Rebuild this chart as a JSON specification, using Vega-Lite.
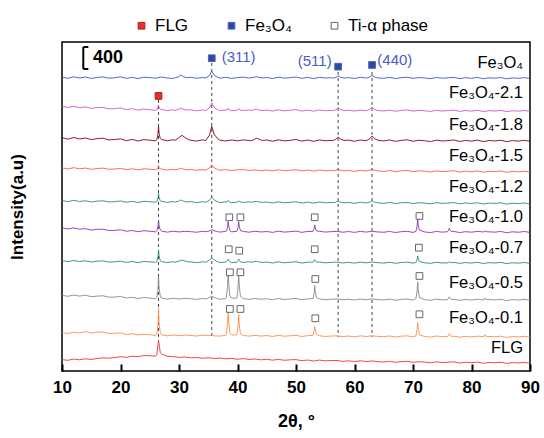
{
"$schema": "https://vega.github.io/schema/vega-lite/v6.json",
"width": 468, "height": 329,
"autosize": "none",
"padding": {"left": 62, "top": 42, "right": 14, "bottom": 67},
"background": "white",
"config": {"view": {"stroke": "#000", "strokeWidth": 1.5}, "font": "Liberation Sans"},
"datasets": {
"L": [
{"s":"a","x":10,"y":5358},{"s":"a","x":11,"y":5338},{"s":"a","x":12,"y":5365},{"s":"a","x":13,"y":5344},{"s":"a","x":14,"y":5361},{"s":"a","x":15,"y":5336},{"s":"a","x":16,"y":5354},{"s":"a","x":17,"y":5363},{"s":"a","x":18,"y":5341},{"s":"a","x":19,"y":5347},{"s":"a","x":20,"y":5364},{"s":"a","x":21,"y":5338},{"s":"a","x":22,"y":5355},{"s":"a","x":23,"y":5334},{"s":"a","x":24,"y":5358},{"s":"a","x":25,"y":5350},{"s":"a","x":26,"y":5340},{"s":"a","x":27,"y":5362},{"s":"a","x":28,"y":5343},{"s":"a","x":29,"y":5336},
{"s":"a","x":29.3,"y":5346},{"s":"a","x":29.9,"y":5365},{"s":"a","x":30.3,"y":5400},{"s":"a","x":30.7,"y":5368},{"s":"a","x":31.3,"y":5350},
{"s":"a","x":32,"y":5356},{"s":"a","x":33,"y":5339},{"s":"a","x":34,"y":5352},
{"s":"a","x":34.6,"y":5345},{"s":"a","x":35.2,"y":5390},{"s":"a","x":35.6,"y":5470},{"s":"a","x":36.0,"y":5395},{"s":"a","x":36.6,"y":5355},
{"s":"a","x":37,"y":5340},{"s":"a","x":38,"y":5357},{"s":"a","x":39,"y":5336},{"s":"a","x":40,"y":5352},{"s":"a","x":41,"y":5359},{"s":"a","x":42,"y":5343},
{"s":"a","x":42.2,"y":5345},{"s":"a","x":42.8,"y":5355},{"s":"a","x":43.2,"y":5370},{"s":"a","x":43.6,"y":5356},{"s":"a","x":44.2,"y":5344},
{"s":"a","x":45,"y":5353},{"s":"a","x":46,"y":5335},{"s":"a","x":47,"y":5359},{"s":"a","x":48,"y":5341},{"s":"a","x":49,"y":5350},{"s":"a","x":50,"y":5362},{"s":"a","x":51,"y":5337},{"s":"a","x":52,"y":5354},{"s":"a","x":53,"y":5333},{"s":"a","x":54,"y":5356},{"s":"a","x":55,"y":5344},{"s":"a","x":56,"y":5349},
{"s":"a","x":56.2,"y":5340},{"s":"a","x":56.8,"y":5354},{"s":"a","x":57.2,"y":5380},{"s":"a","x":57.6,"y":5357},{"s":"a","x":58.2,"y":5342},
{"s":"a","x":59,"y":5351},{"s":"a","x":60,"y":5336},{"s":"a","x":61,"y":5355},
{"s":"a","x":62,"y":5343},{"s":"a","x":62.6,"y":5360},{"s":"a","x":63,"y":5390},{"s":"a","x":63.4,"y":5362},{"s":"a","x":64,"y":5345},
{"s":"a","x":65,"y":5338},{"s":"a","x":66,"y":5355},{"s":"a","x":67,"y":5333},{"s":"a","x":68,"y":5350},{"s":"a","x":69,"y":5357},{"s":"a","x":70,"y":5337},{"s":"a","x":71,"y":5352},{"s":"a","x":72,"y":5344},{"s":"a","x":73,"y":5331},{"s":"a","x":74,"y":5353},{"s":"a","x":75,"y":5340},{"s":"a","x":76,"y":5347},{"s":"a","x":77,"y":5356},{"s":"a","x":78,"y":5332},{"s":"a","x":79,"y":5349},{"s":"a","x":80,"y":5338},{"s":"a","x":81,"y":5354},{"s":"a","x":82,"y":5330},{"s":"a","x":83,"y":5346},{"s":"a","x":84,"y":5341},{"s":"a","x":85,"y":5352},{"s":"a","x":86,"y":5329},{"s":"a","x":87,"y":5345},{"s":"a","x":88,"y":5338},{"s":"a","x":89,"y":5350},{"s":"a","x":90,"y":5333},

{"s":"b","x":10,"y":4830},{"s":"b","x":11,"y":4806},{"s":"b","x":12,"y":4826},{"s":"b","x":13,"y":4801},{"s":"b","x":14,"y":4817},{"s":"b","x":15,"y":4790},{"s":"b","x":16,"y":4803},{"s":"b","x":17,"y":4808},{"s":"b","x":18,"y":4781},{"s":"b","x":19,"y":4784},{"s":"b","x":20,"y":4797},{"s":"b","x":21,"y":4768},{"s":"b","x":22,"y":4783},{"s":"b","x":23,"y":4757},{"s":"b","x":24,"y":4778},{"s":"b","x":25,"y":4765},{"s":"b","x":26,"y":4753},
{"s":"b","x":26.2,"y":4762},{"s":"b","x":26.4,"y":4800},{"s":"b","x":26.5,"y":4850},{"s":"b","x":26.6,"y":4805},{"s":"b","x":26.8,"y":4770},
{"s":"b","x":27,"y":4772},{"s":"b","x":28,"y":4750},{"s":"b","x":29,"y":4764},
{"s":"b","x":29.3,"y":4752},{"s":"b","x":29.9,"y":4772},{"s":"b","x":30.3,"y":4795},{"s":"b","x":30.7,"y":4775},{"s":"b","x":31.3,"y":4758},
{"s":"b","x":32,"y":4763},{"s":"b","x":33,"y":4745},{"s":"b","x":34,"y":4760},
{"s":"b","x":34.6,"y":4752},{"s":"b","x":35.2,"y":4800},{"s":"b","x":35.6,"y":4888},{"s":"b","x":36.0,"y":4810},{"s":"b","x":36.6,"y":4765},
{"s":"b","x":37,"y":4748},{"s":"b","x":38,"y":4762},{"s":"b","x":38.2,"y":4756},{"s":"b","x":38.4,"y":4790},{"s":"b","x":38.6,"y":4760},{"s":"b","x":39,"y":4747},
{"s":"b","x":40.0,"y":4756},{"s":"b","x":40.2,"y":4785},{"s":"b","x":40.4,"y":4760},{"s":"b","x":41,"y":4750},{"s":"b","x":42,"y":4762},
{"s":"b","x":42.2,"y":4754},{"s":"b","x":42.8,"y":4762},{"s":"b","x":43.2,"y":4778},{"s":"b","x":43.6,"y":4762},{"s":"b","x":44.2,"y":4750},
{"s":"b","x":45,"y":4759},{"s":"b","x":46,"y":4741},{"s":"b","x":47,"y":4763},{"s":"b","x":48,"y":4745},{"s":"b","x":49,"y":4756},{"s":"b","x":50,"y":4766},{"s":"b","x":51,"y":4741},{"s":"b","x":52,"y":4758},{"s":"b","x":53,"y":4739},{"s":"b","x":54,"y":4760},{"s":"b","x":55,"y":4747},{"s":"b","x":56,"y":4753},
{"s":"b","x":56.2,"y":4745},{"s":"b","x":56.8,"y":4764},{"s":"b","x":57.2,"y":4800},{"s":"b","x":57.6,"y":4768},{"s":"b","x":58.2,"y":4750},
{"s":"b","x":59,"y":4755},{"s":"b","x":60,"y":4740},{"s":"b","x":61,"y":4758},
{"s":"b","x":62,"y":4746},{"s":"b","x":62.6,"y":4772},{"s":"b","x":63,"y":4815},{"s":"b","x":63.4,"y":4775},{"s":"b","x":64,"y":4750},
{"s":"b","x":65,"y":4742},{"s":"b","x":66,"y":4758},{"s":"b","x":67,"y":4737},{"s":"b","x":68,"y":4752},{"s":"b","x":69,"y":4760},{"s":"b","x":70,"y":4740},{"s":"b","x":71,"y":4754},{"s":"b","x":72,"y":4746},{"s":"b","x":73,"y":4733},{"s":"b","x":74,"y":4755},{"s":"b","x":75,"y":4741},{"s":"b","x":76,"y":4749},{"s":"b","x":77,"y":4758},{"s":"b","x":78,"y":4734},{"s":"b","x":79,"y":4750},{"s":"b","x":80,"y":4739},{"s":"b","x":81,"y":4756},{"s":"b","x":82,"y":4732},{"s":"b","x":83,"y":4748},{"s":"b","x":84,"y":4742},{"s":"b","x":85,"y":4753},{"s":"b","x":86,"y":4730},{"s":"b","x":87,"y":4747},{"s":"b","x":88,"y":4739},{"s":"b","x":89,"y":4751},{"s":"b","x":90,"y":4735},

{"s":"c","x":10,"y":4255},{"s":"c","x":11,"y":4228},{"s":"c","x":12,"y":4258},{"s":"c","x":13,"y":4232},{"s":"c","x":14,"y":4249},{"s":"c","x":15,"y":4220},{"s":"c","x":16,"y":4238},{"s":"c","x":17,"y":4245},{"s":"c","x":18,"y":4214},{"s":"c","x":19,"y":4222},{"s":"c","x":20,"y":4233},{"s":"c","x":21,"y":4200},{"s":"c","x":22,"y":4223},{"s":"c","x":23,"y":4195},{"s":"c","x":24,"y":4220},{"s":"c","x":25,"y":4210},{"s":"c","x":26,"y":4198},
{"s":"c","x":26.2,"y":4215},{"s":"c","x":26.4,"y":4315},{"s":"c","x":26.5,"y":4460},{"s":"c","x":26.6,"y":4330},{"s":"c","x":26.8,"y":4240},
{"s":"c","x":27,"y":4222},{"s":"c","x":28,"y":4200},{"s":"c","x":29,"y":4218},
{"s":"c","x":29.3,"y":4205},{"s":"c","x":30.0,"y":4255},{"s":"c","x":30.5,"y":4298},{"s":"c","x":31.0,"y":4260},{"s":"c","x":31.7,"y":4215},
{"s":"c","x":32,"y":4208},{"s":"c","x":33,"y":4193},{"s":"c","x":34,"y":4215},
{"s":"c","x":34.6,"y":4205},{"s":"c","x":35.2,"y":4300},{"s":"c","x":35.6,"y":4462},{"s":"c","x":36.0,"y":4320},{"s":"c","x":36.6,"y":4235},
{"s":"c","x":37,"y":4210},{"s":"c","x":38,"y":4195},{"s":"c","x":39,"y":4214},{"s":"c","x":40,"y":4198},{"s":"c","x":41,"y":4215},{"s":"c","x":42,"y":4203},
{"s":"c","x":42.3,"y":4200},{"s":"c","x":42.9,"y":4222},{"s":"c","x":43.3,"y":4248},{"s":"c","x":43.7,"y":4225},{"s":"c","x":44.3,"y":4205},
{"s":"c","x":45,"y":4213},{"s":"c","x":46,"y":4190},{"s":"c","x":47,"y":4216},{"s":"c","x":48,"y":4197},{"s":"c","x":49,"y":4207},{"s":"c","x":50,"y":4222},{"s":"c","x":51,"y":4192},{"s":"c","x":52,"y":4212},{"s":"c","x":53,"y":4189},{"s":"c","x":54,"y":4214},{"s":"c","x":55,"y":4199},{"s":"c","x":56,"y":4205},
{"s":"c","x":56.2,"y":4198},{"s":"c","x":56.8,"y":4225},{"s":"c","x":57.2,"y":4267},{"s":"c","x":57.6,"y":4230},{"s":"c","x":58.2,"y":4205},
{"s":"c","x":59,"y":4210},{"s":"c","x":60,"y":4190},{"s":"c","x":61,"y":4212},
{"s":"c","x":62,"y":4200},{"s":"c","x":62.6,"y":4235},{"s":"c","x":63,"y":4285},{"s":"c","x":63.4,"y":4240},{"s":"c","x":64,"y":4208},
{"s":"c","x":65,"y":4196},{"s":"c","x":66,"y":4214},{"s":"c","x":67,"y":4188},{"s":"c","x":68,"y":4206},{"s":"c","x":69,"y":4216},{"s":"c","x":70,"y":4190},{"s":"c","x":71,"y":4208},{"s":"c","x":72,"y":4199},{"s":"c","x":73,"y":4185},{"s":"c","x":74,"y":4210},{"s":"c","x":75,"y":4194},{"s":"c","x":76,"y":4202},{"s":"c","x":77,"y":4213},{"s":"c","x":78,"y":4186},{"s":"c","x":79,"y":4205},{"s":"c","x":80,"y":4192},{"s":"c","x":81,"y":4210},{"s":"c","x":82,"y":4184},{"s":"c","x":83,"y":4203},{"s":"c","x":84,"y":4196},{"s":"c","x":85,"y":4209},{"s":"c","x":86,"y":4183},{"s":"c","x":87,"y":4201},{"s":"c","x":88,"y":4193},{"s":"c","x":89,"y":4207},{"s":"c","x":90,"y":4188},

{"s":"d","x":10,"y":3705},{"s":"d","x":11,"y":3684},{"s":"d","x":12,"y":3708},{"s":"d","x":13,"y":3687},{"s":"d","x":14,"y":3701},{"s":"d","x":15,"y":3678},{"s":"d","x":16,"y":3693},{"s":"d","x":17,"y":3699},{"s":"d","x":18,"y":3679},{"s":"d","x":19,"y":3683},{"s":"d","x":20,"y":3696},{"s":"d","x":21,"y":3672},{"s":"d","x":22,"y":3688},{"s":"d","x":23,"y":3667},{"s":"d","x":24,"y":3688},{"s":"d","x":25,"y":3680},{"s":"d","x":26,"y":3671},
{"s":"d","x":26.2,"y":3678},{"s":"d","x":26.4,"y":3705},{"s":"d","x":26.5,"y":3750},{"s":"d","x":26.6,"y":3712},{"s":"d","x":26.8,"y":3685},
{"s":"d","x":27,"y":3684},{"s":"d","x":28,"y":3665},{"s":"d","x":29,"y":3680},
{"s":"d","x":29.3,"y":3668},{"s":"d","x":29.9,"y":3680},{"s":"d","x":30.3,"y":3695},{"s":"d","x":30.7,"y":3682},{"s":"d","x":31.3,"y":3670},
{"s":"d","x":32,"y":3676},{"s":"d","x":33,"y":3660},{"s":"d","x":34,"y":3674},
{"s":"d","x":34.6,"y":3665},{"s":"d","x":35.2,"y":3700},{"s":"d","x":35.6,"y":3758},{"s":"d","x":36.0,"y":3705},{"s":"d","x":36.6,"y":3675},
{"s":"d","x":37,"y":3660},{"s":"d","x":38,"y":3673},{"s":"d","x":39,"y":3655},{"s":"d","x":40,"y":3669},{"s":"d","x":41,"y":3674},{"s":"d","x":42,"y":3658},{"s":"d","x":43,"y":3667},{"s":"d","x":44,"y":3652},{"s":"d","x":45,"y":3666},{"s":"d","x":46,"y":3649},{"s":"d","x":47,"y":3670},{"s":"d","x":48,"y":3653},{"s":"d","x":49,"y":3661},{"s":"d","x":50,"y":3671},{"s":"d","x":51,"y":3648},{"s":"d","x":52,"y":3664},{"s":"d","x":53,"y":3645},{"s":"d","x":54,"y":3666},{"s":"d","x":55,"y":3652},{"s":"d","x":56,"y":3658},
{"s":"d","x":56.2,"y":3650},{"s":"d","x":56.8,"y":3660},{"s":"d","x":57.2,"y":3682},{"s":"d","x":57.6,"y":3662},{"s":"d","x":58.2,"y":3650},
{"s":"d","x":59,"y":3657},{"s":"d","x":60,"y":3641},{"s":"d","x":61,"y":3659},
{"s":"d","x":62,"y":3646},{"s":"d","x":62.6,"y":3662},{"s":"d","x":63,"y":3683},{"s":"d","x":63.4,"y":3662},{"s":"d","x":64,"y":3648},
{"s":"d","x":65,"y":3640},{"s":"d","x":66,"y":3655},{"s":"d","x":67,"y":3635},{"s":"d","x":68,"y":3650},{"s":"d","x":69,"y":3656},{"s":"d","x":70,"y":3636},{"s":"d","x":71,"y":3651},{"s":"d","x":72,"y":3643},{"s":"d","x":73,"y":3630},{"s":"d","x":74,"y":3650},{"s":"d","x":75,"y":3637},{"s":"d","x":76,"y":3644},{"s":"d","x":77,"y":3652},{"s":"d","x":78,"y":3628},{"s":"d","x":79,"y":3645},{"s":"d","x":80,"y":3634},{"s":"d","x":81,"y":3650},{"s":"d","x":82,"y":3626},{"s":"d","x":83,"y":3642},{"s":"d","x":84,"y":3637},{"s":"d","x":85,"y":3648},{"s":"d","x":86,"y":3624},{"s":"d","x":87,"y":3640},{"s":"d","x":88,"y":3633},{"s":"d","x":89,"y":3644},{"s":"d","x":90,"y":3627},

{"s":"e","x":10,"y":3110},{"s":"e","x":11,"y":3088},{"s":"e","x":12,"y":3112},{"s":"e","x":13,"y":3091},{"s":"e","x":14,"y":3105},{"s":"e","x":15,"y":3082},{"s":"e","x":16,"y":3098},{"s":"e","x":17,"y":3104},{"s":"e","x":18,"y":3084},{"s":"e","x":19,"y":3088},{"s":"e","x":20,"y":3101},{"s":"e","x":21,"y":3078},{"s":"e","x":22,"y":3094},{"s":"e","x":23,"y":3073},{"s":"e","x":24,"y":3095},{"s":"e","x":25,"y":3087},{"s":"e","x":26,"y":3080},
{"s":"e","x":26.2,"y":3090},{"s":"e","x":26.4,"y":3150},{"s":"e","x":26.5,"y":3240},{"s":"e","x":26.6,"y":3160},{"s":"e","x":26.8,"y":3105},
{"s":"e","x":27,"y":3094},{"s":"e","x":28,"y":3075},{"s":"e","x":29,"y":3091},
{"s":"e","x":29.3,"y":3080},{"s":"e","x":29.9,"y":3095},{"s":"e","x":30.3,"y":3118},{"s":"e","x":30.7,"y":3098},{"s":"e","x":31.3,"y":3083},
{"s":"e","x":32,"y":3089},{"s":"e","x":33,"y":3072},{"s":"e","x":34,"y":3086},
{"s":"e","x":34.6,"y":3078},{"s":"e","x":35.2,"y":3112},{"s":"e","x":35.6,"y":3172},{"s":"e","x":36.0,"y":3118},{"s":"e","x":36.6,"y":3088},
{"s":"e","x":37,"y":3072},{"s":"e","x":38,"y":3085},{"s":"e","x":38.2,"y":3080},{"s":"e","x":38.4,"y":3110},{"s":"e","x":38.6,"y":3085},{"s":"e","x":39,"y":3068},
{"s":"e","x":40.0,"y":3080},{"s":"e","x":40.2,"y":3103},{"s":"e","x":40.4,"y":3083},{"s":"e","x":41,"y":3073},{"s":"e","x":42,"y":3086},
{"s":"e","x":42.2,"y":3078},{"s":"e","x":42.8,"y":3084},{"s":"e","x":43.2,"y":3093},{"s":"e","x":43.6,"y":3084},{"s":"e","x":44.2,"y":3075},
{"s":"e","x":45,"y":3082},{"s":"e","x":46,"y":3064},{"s":"e","x":47,"y":3085},{"s":"e","x":48,"y":3068},{"s":"e","x":49,"y":3077},{"s":"e","x":50,"y":3087},{"s":"e","x":51,"y":3063},{"s":"e","x":52,"y":3080},{"s":"e","x":53,"y":3061},{"s":"e","x":54,"y":3082},{"s":"e","x":55,"y":3068},{"s":"e","x":56,"y":3074},
{"s":"e","x":56.2,"y":3068},{"s":"e","x":56.8,"y":3078},{"s":"e","x":57.2,"y":3100},{"s":"e","x":57.6,"y":3080},{"s":"e","x":58.2,"y":3068},
{"s":"e","x":59,"y":3074},{"s":"e","x":60,"y":3058},{"s":"e","x":61,"y":3076},
{"s":"e","x":62,"y":3064},{"s":"e","x":62.6,"y":3080},{"s":"e","x":63,"y":3105},{"s":"e","x":63.4,"y":3082},{"s":"e","x":64,"y":3066},
{"s":"e","x":65,"y":3058},{"s":"e","x":66,"y":3073},{"s":"e","x":67,"y":3053},{"s":"e","x":68,"y":3068},{"s":"e","x":69,"y":3074},{"s":"e","x":70,"y":3055},{"s":"e","x":71,"y":3069},{"s":"e","x":72,"y":3062},{"s":"e","x":73,"y":3049},{"s":"e","x":74,"y":3069},{"s":"e","x":75,"y":3056},{"s":"e","x":76,"y":3063},{"s":"e","x":77,"y":3071},{"s":"e","x":78,"y":3048},{"s":"e","x":79,"y":3064},{"s":"e","x":80,"y":3054},{"s":"e","x":81,"y":3069},{"s":"e","x":82,"y":3046},{"s":"e","x":83,"y":3062},{"s":"e","x":84,"y":3057},{"s":"e","x":85,"y":3067},{"s":"e","x":86,"y":3044},{"s":"e","x":87,"y":3060},{"s":"e","x":88,"y":3053},{"s":"e","x":89,"y":3064},{"s":"e","x":90,"y":3047},

{"s":"f","x":10,"y":2612},{"s":"f","x":11,"y":2590},{"s":"f","x":12,"y":2610},{"s":"f","x":13,"y":2586},{"s":"f","x":14,"y":2596},{"s":"f","x":15,"y":2570},{"s":"f","x":16,"y":2584},{"s":"f","x":17,"y":2585},{"s":"f","x":18,"y":2563},{"s":"f","x":19,"y":2564},{"s":"f","x":20,"y":2575},{"s":"f","x":21,"y":2549},{"s":"f","x":22,"y":2562},{"s":"f","x":23,"y":2540},{"s":"f","x":24,"y":2560},{"s":"f","x":25,"y":2549},{"s":"f","x":26,"y":2538},
{"s":"f","x":26.2,"y":2555},{"s":"f","x":26.4,"y":2630},{"s":"f","x":26.5,"y":2745},{"s":"f","x":26.6,"y":2650},{"s":"f","x":26.8,"y":2570},
{"s":"f","x":27,"y":2553},{"s":"f","x":28,"y":2532},{"s":"f","x":29,"y":2550},{"s":"f","x":30,"y":2536},{"s":"f","x":31,"y":2548},{"s":"f","x":32,"y":2541},{"s":"f","x":33,"y":2530},{"s":"f","x":34,"y":2549},
{"s":"f","x":34.6,"y":2540},{"s":"f","x":35.2,"y":2555},{"s":"f","x":35.6,"y":2578},{"s":"f","x":36.0,"y":2558},{"s":"f","x":36.6,"y":2542},
{"s":"f","x":37,"y":2533},{"s":"f","x":38,"y":2547},{"s":"f","x":38.1,"y":2552},{"s":"f","x":38.3,"y":2620},{"s":"f","x":38.4,"y":2725},{"s":"f","x":38.5,"y":2640},{"s":"f","x":38.7,"y":2560},
{"s":"f","x":39,"y":2538},{"s":"f","x":39.9,"y":2548},{"s":"f","x":40.1,"y":2620},{"s":"f","x":40.2,"y":2725},{"s":"f","x":40.3,"y":2640},{"s":"f","x":40.5,"y":2560},
{"s":"f","x":41,"y":2545},{"s":"f","x":42,"y":2532},{"s":"f","x":43,"y":2549},{"s":"f","x":44,"y":2535},{"s":"f","x":45,"y":2544},{"s":"f","x":46,"y":2528},{"s":"f","x":47,"y":2550},{"s":"f","x":48,"y":2533},{"s":"f","x":49,"y":2541},{"s":"f","x":50,"y":2551},{"s":"f","x":51,"y":2528},{"s":"f","x":52,"y":2546},
{"s":"f","x":52.9,"y":2545},{"s":"f","x":53.1,"y":2595},{"s":"f","x":53.2,"y":2663},{"s":"f","x":53.3,"y":2605},{"s":"f","x":53.5,"y":2555},
{"s":"f","x":54,"y":2548},{"s":"f","x":55,"y":2534},{"s":"f","x":56,"y":2541},{"s":"f","x":57,"y":2548},{"s":"f","x":58,"y":2531},{"s":"f","x":59,"y":2543},{"s":"f","x":60,"y":2528},{"s":"f","x":61,"y":2546},{"s":"f","x":62,"y":2533},{"s":"f","x":63,"y":2549},{"s":"f","x":64,"y":2536},{"s":"f","x":65,"y":2530},{"s":"f","x":66,"y":2545},{"s":"f","x":67,"y":2525},{"s":"f","x":68,"y":2541},{"s":"f","x":69,"y":2547},{"s":"f","x":70,"y":2528},
{"s":"f","x":70.5,"y":2545},{"s":"f","x":70.7,"y":2640},{"s":"f","x":70.8,"y":2785},{"s":"f","x":70.9,"y":2660},{"s":"f","x":71.1,"y":2570},
{"s":"f","x":72,"y":2536},{"s":"f","x":73,"y":2524},{"s":"f","x":74,"y":2546},{"s":"f","x":75,"y":2532},
{"s":"f","x":75.9,"y":2540},{"s":"f","x":76.1,"y":2570},{"s":"f","x":76.2,"y":2605},{"s":"f","x":76.3,"y":2575},{"s":"f","x":76.5,"y":2548},
{"s":"f","x":77,"y":2544},{"s":"f","x":78,"y":2525},{"s":"f","x":79,"y":2541},{"s":"f","x":80,"y":2531},{"s":"f","x":81,"y":2546},
{"s":"f","x":82.1,"y":2535},{"s":"f","x":82.3,"y":2560},{"s":"f","x":82.5,"y":2540},
{"s":"f","x":83,"y":2538},{"s":"f","x":84,"y":2532},{"s":"f","x":85,"y":2545},{"s":"f","x":86,"y":2521},{"s":"f","x":87,"y":2539},{"s":"f","x":88,"y":2530},{"s":"f","x":89,"y":2544},{"s":"f","x":90,"y":2527},

{"s":"g","x":10,"y":2015},{"s":"g","x":11,"y":1994},{"s":"g","x":12,"y":2016},{"s":"g","x":13,"y":1996},{"s":"g","x":14,"y":2010},{"s":"g","x":15,"y":1988},{"s":"g","x":16,"y":2002},{"s":"g","x":17,"y":2008},{"s":"g","x":18,"y":1986},{"s":"g","x":19,"y":1991},{"s":"g","x":20,"y":2004},{"s":"g","x":21,"y":1981},{"s":"g","x":22,"y":1997},{"s":"g","x":23,"y":1976},{"s":"g","x":24,"y":1997},{"s":"g","x":25,"y":1990},{"s":"g","x":26,"y":1982},
{"s":"g","x":26.2,"y":1995},{"s":"g","x":26.4,"y":2080},{"s":"g","x":26.5,"y":2210},{"s":"g","x":26.6,"y":2100},{"s":"g","x":26.8,"y":2010},
{"s":"g","x":27,"y":1996},{"s":"g","x":28,"y":1978},{"s":"g","x":29,"y":1993},
{"s":"g","x":29.3,"y":1982},{"s":"g","x":30.0,"y":2005},{"s":"g","x":30.5,"y":2022},{"s":"g","x":31.0,"y":2006},{"s":"g","x":31.7,"y":1988},
{"s":"g","x":32,"y":1990},{"s":"g","x":33,"y":1975},{"s":"g","x":34,"y":1990},
{"s":"g","x":34.6,"y":1985},{"s":"g","x":35.2,"y":2020},{"s":"g","x":35.6,"y":2063},{"s":"g","x":36.0,"y":2025},{"s":"g","x":36.6,"y":1995},
{"s":"g","x":37,"y":1976},{"s":"g","x":38,"y":1989},{"s":"g","x":38.1,"y":1990},{"s":"g","x":38.3,"y":2020},{"s":"g","x":38.4,"y":2041},{"s":"g","x":38.5,"y":2020},{"s":"g","x":38.7,"y":1992},
{"s":"g","x":39,"y":1975},{"s":"g","x":39.9,"y":1985},{"s":"g","x":40.1,"y":2015},{"s":"g","x":40.2,"y":2040},{"s":"g","x":40.3,"y":2018},{"s":"g","x":40.5,"y":1990},
{"s":"g","x":41,"y":1980},{"s":"g","x":42,"y":1993},
{"s":"g","x":42.2,"y":1982},{"s":"g","x":42.8,"y":1992},{"s":"g","x":43.2,"y":2003},{"s":"g","x":43.6,"y":1991},{"s":"g","x":44.2,"y":1980},
{"s":"g","x":45,"y":1987},{"s":"g","x":46,"y":1970},{"s":"g","x":47,"y":1991},{"s":"g","x":48,"y":1974},{"s":"g","x":49,"y":1982},{"s":"g","x":50,"y":1992},{"s":"g","x":51,"y":1969},{"s":"g","x":52,"y":1985},
{"s":"g","x":52.9,"y":1984},{"s":"g","x":53.1,"y":2010},{"s":"g","x":53.2,"y":2035},{"s":"g","x":53.3,"y":2010},{"s":"g","x":53.5,"y":1985},
{"s":"g","x":54,"y":1987},{"s":"g","x":55,"y":1973},{"s":"g","x":56,"y":1980},{"s":"g","x":57,"y":1986},{"s":"g","x":58,"y":1970},{"s":"g","x":59,"y":1982},{"s":"g","x":60,"y":1967},{"s":"g","x":61,"y":1985},{"s":"g","x":62,"y":1972},{"s":"g","x":63,"y":1988},{"s":"g","x":64,"y":1975},{"s":"g","x":65,"y":1968},{"s":"g","x":66,"y":1983},{"s":"g","x":67,"y":1964},{"s":"g","x":68,"y":1979},{"s":"g","x":69,"y":1985},{"s":"g","x":70,"y":1967},
{"s":"g","x":70.5,"y":1980},{"s":"g","x":70.7,"y":2030},{"s":"g","x":70.8,"y":2098},{"s":"g","x":70.9,"y":2040},{"s":"g","x":71.1,"y":1995},
{"s":"g","x":72,"y":1974},{"s":"g","x":73,"y":1963},{"s":"g","x":74,"y":1983},{"s":"g","x":75,"y":1970},
{"s":"g","x":76.0,"y":1972},{"s":"g","x":76.2,"y":1995},{"s":"g","x":76.4,"y":1975},
{"s":"g","x":77,"y":1981},{"s":"g","x":78,"y":1963},{"s":"g","x":79,"y":1978},{"s":"g","x":80,"y":1968},{"s":"g","x":81,"y":1983},{"s":"g","x":82,"y":1960},{"s":"g","x":83,"y":1976},{"s":"g","x":84,"y":1970},{"s":"g","x":85,"y":1981},{"s":"g","x":86,"y":1958},{"s":"g","x":87,"y":1975},{"s":"g","x":88,"y":1967},{"s":"g","x":89,"y":1979},{"s":"g","x":90,"y":1962},

{"s":"h","x":10,"y":1382},{"s":"h","x":11,"y":1362},{"s":"h","x":12,"y":1385},{"s":"h","x":13,"y":1366},{"s":"h","x":14,"y":1383},{"s":"h","x":15,"y":1355},{"s":"h","x":16,"y":1366},{"s":"h","x":17,"y":1372},{"s":"h","x":18,"y":1346},{"s":"h","x":19,"y":1348},{"s":"h","x":20,"y":1360},{"s":"h","x":21,"y":1332},{"s":"h","x":22,"y":1344},{"s":"h","x":23,"y":1322},{"s":"h","x":24,"y":1340},{"s":"h","x":25,"y":1330},{"s":"h","x":26,"y":1317},
{"s":"h","x":26.2,"y":1340},{"s":"h","x":26.4,"y":1480},{"s":"h","x":26.5,"y":1722},{"s":"h","x":26.6,"y":1510},{"s":"h","x":26.8,"y":1370},
{"s":"h","x":27,"y":1330},{"s":"h","x":28,"y":1310},{"s":"h","x":29,"y":1326},{"s":"h","x":30,"y":1312},{"s":"h","x":31,"y":1325},{"s":"h","x":32,"y":1318},{"s":"h","x":33,"y":1306},{"s":"h","x":34,"y":1323},
{"s":"h","x":34.6,"y":1315},{"s":"h","x":35.2,"y":1340},{"s":"h","x":35.6,"y":1365},{"s":"h","x":36.0,"y":1342},{"s":"h","x":36.6,"y":1318},
{"s":"h","x":37,"y":1307},{"s":"h","x":38,"y":1321},{"s":"h","x":38.1,"y":1335},{"s":"h","x":38.3,"y":1540},{"s":"h","x":38.4,"y":1795},{"s":"h","x":38.5,"y":1580},{"s":"h","x":38.7,"y":1370},
{"s":"h","x":39,"y":1328},{"s":"h","x":39.9,"y":1330},{"s":"h","x":40.1,"y":1520},{"s":"h","x":40.2,"y":1768},{"s":"h","x":40.3,"y":1560},{"s":"h","x":40.5,"y":1360},
{"s":"h","x":41,"y":1320},{"s":"h","x":42,"y":1306},{"s":"h","x":43,"y":1322},{"s":"h","x":44,"y":1308},{"s":"h","x":45,"y":1317},{"s":"h","x":46,"y":1300},{"s":"h","x":47,"y":1322},{"s":"h","x":48,"y":1304},{"s":"h","x":49,"y":1313},{"s":"h","x":50,"y":1323},{"s":"h","x":51,"y":1299},{"s":"h","x":52,"y":1315},
{"s":"h","x":52.9,"y":1320},{"s":"h","x":53.1,"y":1420},{"s":"h","x":53.2,"y":1560},{"s":"h","x":53.3,"y":1440},{"s":"h","x":53.5,"y":1340},
{"s":"h","x":54,"y":1314},{"s":"h","x":55,"y":1301},{"s":"h","x":56,"y":1308},{"s":"h","x":57,"y":1314},{"s":"h","x":58,"y":1297},{"s":"h","x":59,"y":1310},{"s":"h","x":60,"y":1295},{"s":"h","x":61,"y":1312},{"s":"h","x":62,"y":1300},{"s":"h","x":63,"y":1315},{"s":"h","x":64,"y":1302},{"s":"h","x":65,"y":1296},{"s":"h","x":66,"y":1310},{"s":"h","x":67,"y":1291},{"s":"h","x":68,"y":1306},{"s":"h","x":69,"y":1312},{"s":"h","x":70,"y":1294},
{"s":"h","x":70.5,"y":1320},{"s":"h","x":70.7,"y":1460},{"s":"h","x":70.8,"y":1627},{"s":"h","x":70.9,"y":1480},{"s":"h","x":71.1,"y":1340},
{"s":"h","x":72,"y":1301},{"s":"h","x":73,"y":1290},{"s":"h","x":74,"y":1310},{"s":"h","x":75,"y":1297},
{"s":"h","x":75.9,"y":1302},{"s":"h","x":76.1,"y":1330},{"s":"h","x":76.2,"y":1352},{"s":"h","x":76.3,"y":1330},{"s":"h","x":76.5,"y":1305},
{"s":"h","x":77,"y":1307},{"s":"h","x":78,"y":1289},{"s":"h","x":79,"y":1304},{"s":"h","x":80,"y":1294},{"s":"h","x":81,"y":1309},
{"s":"h","x":82.1,"y":1296},{"s":"h","x":82.3,"y":1330},{"s":"h","x":82.5,"y":1300},
{"s":"h","x":83,"y":1303},{"s":"h","x":84,"y":1297},{"s":"h","x":85,"y":1308},{"s":"h","x":86,"y":1285},{"s":"h","x":87,"y":1302},{"s":"h","x":88,"y":1294},{"s":"h","x":89,"y":1306},{"s":"h","x":90,"y":1290},

{"s":"i","x":10,"y":697},{"s":"i","x":11,"y":684},{"s":"i","x":12,"y":710},{"s":"i","x":13,"y":693},{"s":"i","x":14,"y":719},{"s":"i","x":15,"y":694},{"s":"i","x":16,"y":709},{"s":"i","x":17,"y":710},{"s":"i","x":18,"y":686},{"s":"i","x":19,"y":686},{"s":"i","x":20,"y":698},{"s":"i","x":21,"y":666},{"s":"i","x":22,"y":680},{"s":"i","x":23,"y":658},{"s":"i","x":24,"y":670},{"s":"i","x":25,"y":662},{"s":"i","x":26,"y":645},
{"s":"i","x":26.2,"y":665},{"s":"i","x":26.4,"y":820},{"s":"i","x":26.5,"y":1142},{"s":"i","x":26.6,"y":880},{"s":"i","x":26.8,"y":700},
{"s":"i","x":27,"y":662},{"s":"i","x":28,"y":641},{"s":"i","x":29,"y":657},{"s":"i","x":30,"y":643},{"s":"i","x":31,"y":656},{"s":"i","x":32,"y":649},{"s":"i","x":33,"y":637},{"s":"i","x":34,"y":654},{"s":"i","x":35,"y":648},
{"s":"i","x":35.4,"y":645},{"s":"i","x":35.6,"y":680},{"s":"i","x":35.8,"y":650},
{"s":"i","x":36,"y":640},{"s":"i","x":37,"y":637},{"s":"i","x":38,"y":651},{"s":"i","x":38.1,"y":662},{"s":"i","x":38.3,"y":850},{"s":"i","x":38.4,"y":1090},{"s":"i","x":38.5,"y":880},{"s":"i","x":38.7,"y":690},
{"s":"i","x":39,"y":655},{"s":"i","x":39.9,"y":660},{"s":"i","x":40.1,"y":830},{"s":"i","x":40.2,"y":1030},{"s":"i","x":40.3,"y":850},{"s":"i","x":40.5,"y":680},
{"s":"i","x":41,"y":648},{"s":"i","x":42,"y":636},{"s":"i","x":43,"y":651},{"s":"i","x":44,"y":637},{"s":"i","x":45,"y":646},{"s":"i","x":46,"y":630},{"s":"i","x":47,"y":650},{"s":"i","x":48,"y":634},{"s":"i","x":49,"y":642},{"s":"i","x":50,"y":652},{"s":"i","x":51,"y":629},{"s":"i","x":52,"y":645},
{"s":"i","x":52.9,"y":650},{"s":"i","x":53.1,"y":740},{"s":"i","x":53.2,"y":812},{"s":"i","x":53.3,"y":750},{"s":"i","x":53.5,"y":665},
{"s":"i","x":54,"y":643},{"s":"i","x":55,"y":630},{"s":"i","x":56,"y":637},{"s":"i","x":57,"y":642},{"s":"i","x":58,"y":626},{"s":"i","x":59,"y":638},{"s":"i","x":60,"y":624},{"s":"i","x":61,"y":641},{"s":"i","x":62,"y":629},{"s":"i","x":63,"y":643},{"s":"i","x":64,"y":631},{"s":"i","x":65,"y":625},{"s":"i","x":66,"y":639},{"s":"i","x":67,"y":620},{"s":"i","x":68,"y":635},{"s":"i","x":69,"y":641},{"s":"i","x":70,"y":623},
{"s":"i","x":70.5,"y":640},{"s":"i","x":70.7,"y":760},{"s":"i","x":70.8,"y":882},{"s":"i","x":70.9,"y":780},{"s":"i","x":71.1,"y":660},
{"s":"i","x":72,"y":629},{"s":"i","x":73,"y":619},{"s":"i","x":74,"y":638},{"s":"i","x":75,"y":625},
{"s":"i","x":75.9,"y":630},{"s":"i","x":76.1,"y":660},{"s":"i","x":76.2,"y":680},{"s":"i","x":76.3,"y":660},{"s":"i","x":76.5,"y":632},
{"s":"i","x":77,"y":634},{"s":"i","x":78,"y":616},{"s":"i","x":79,"y":631},{"s":"i","x":80,"y":622},{"s":"i","x":81,"y":636},
{"s":"i","x":82.1,"y":625},{"s":"i","x":82.3,"y":660},{"s":"i","x":82.5,"y":630},
{"s":"i","x":83,"y":630},{"s":"i","x":84,"y":625},{"s":"i","x":85,"y":635},{"s":"i","x":86,"y":613},{"s":"i","x":87,"y":629},{"s":"i","x":88,"y":622},{"s":"i","x":89,"y":633},{"s":"i","x":90,"y":617},

{"s":"j","x":10,"y":208},{"s":"j","x":11,"y":195},{"s":"j","x":12,"y":218},{"s":"j","x":13,"y":205},{"s":"j","x":14,"y":222},{"s":"j","x":15,"y":210},{"s":"j","x":16,"y":228},{"s":"j","x":17,"y":238},{"s":"j","x":18,"y":234},{"s":"j","x":19,"y":245},{"s":"j","x":20,"y":262},{"s":"j","x":21,"y":250},{"s":"j","x":22,"y":270},{"s":"j","x":23,"y":262},{"s":"j","x":24,"y":282},{"s":"j","x":25,"y":278},{"s":"j","x":26,"y":272},
{"s":"j","x":26.2,"y":290},{"s":"j","x":26.35,"y":420},{"s":"j","x":26.5,"y":555},{"s":"j","x":26.65,"y":450},{"s":"j","x":26.8,"y":340},{"s":"j","x":27.1,"y":300},
{"s":"j","x":27.5,"y":290},{"s":"j","x":28,"y":268},{"s":"j","x":29,"y":262},{"s":"j","x":30,"y":248},{"s":"j","x":31,"y":256},{"s":"j","x":32,"y":240},{"s":"j","x":33,"y":246},{"s":"j","x":34,"y":232},{"s":"j","x":35,"y":241},{"s":"j","x":36,"y":228},{"s":"j","x":37,"y":236},{"s":"j","x":38,"y":222},{"s":"j","x":39,"y":230},{"s":"j","x":40,"y":214},{"s":"j","x":41,"y":226},{"s":"j","x":42,"y":210},{"s":"j","x":43,"y":219},{"s":"j","x":44,"y":204},{"s":"j","x":45,"y":214},{"s":"j","x":46,"y":198},{"s":"j","x":47,"y":212},{"s":"j","x":48,"y":196},{"s":"j","x":49,"y":204},{"s":"j","x":50,"y":208},{"s":"j","x":51,"y":188},{"s":"j","x":52,"y":200},{"s":"j","x":53,"y":182},{"s":"j","x":54,"y":199},{"s":"j","x":55,"y":186},{"s":"j","x":56,"y":190},{"s":"j","x":57,"y":193},{"s":"j","x":58,"y":175},{"s":"j","x":59,"y":186},{"s":"j","x":60,"y":172},{"s":"j","x":61,"y":186},{"s":"j","x":62,"y":172},{"s":"j","x":63,"y":184},{"s":"j","x":64,"y":170},{"s":"j","x":65,"y":164},{"s":"j","x":66,"y":177},{"s":"j","x":67,"y":158},{"s":"j","x":68,"y":172},{"s":"j","x":69,"y":176},{"s":"j","x":70,"y":158},{"s":"j","x":71,"y":170},{"s":"j","x":72,"y":162},{"s":"j","x":73,"y":150},{"s":"j","x":74,"y":168},{"s":"j","x":75,"y":154},{"s":"j","x":76,"y":160},{"s":"j","x":77,"y":167},{"s":"j","x":78,"y":145},{"s":"j","x":79,"y":160},{"s":"j","x":80,"y":150},{"s":"j","x":81,"y":163},{"s":"j","x":82,"y":141},{"s":"j","x":83,"y":156},{"s":"j","x":84,"y":150},{"s":"j","x":85,"y":160},{"s":"j","x":86,"y":138},{"s":"j","x":87,"y":153},{"s":"j","x":88,"y":146},{"s":"j","x":89,"y":157},{"s":"j","x":90,"y":141}
]
},
"layer": [
{
"data": {"values": [
{"x":26.5,"y":4943,"y2":550},
{"x":35.6,"y":5618,"y2":620},
{"x":57.2,"y":5454,"y2":620},
{"x":63.0,"y":5454,"y2":620}
]},
"mark": {"type": "rule", "strokeDash": [3, 3], "color": "#444444", "strokeWidth": 1},
"encoding": {
"x": {"field": "x", "type": "quantitative", "scale": {"domain": [10, 90], "nice": false, "zero": false},
"axis": {"values": [10,15,20,25,30,35,40,45,50,55,60,65,70,75,80,85,90],
"labelExpr": "datum.value % 10 === 0 ? datum.label : ''",
"tickSize": {"condition": {"test": "datum.value % 10 === 0", "value": -7}, "value": -4},
"tickColor": "#000", "tickWidth": 2, "domain": false, "grid": false,
"labelFontSize": 17, "labelFontWeight": "bold", "labelColor": "#000", "labelPadding": 15,
"labelFlush": false, "labelOverlap": false,
"title": "2θ, °", "titleFontSize": 18, "titleFontWeight": "bold", "titleColor": "#000", "titlePadding": 17}},
"y": {"field": "y", "type": "quantitative", "scale": {"domain": [0, 6000], "nice": false, "zero": false},
"axis": {"labels": false, "ticks": false, "domain": false, "grid": false,
"title": "Intensity(a.u)", "titleFontSize": 17, "titleFontWeight": "bold", "titleColor": "#000", "titlePadding": 36}},
"y2": {"field": "y2"}
}
},
{
"data": {"name": "L"},
"mark": {"type": "line", "strokeWidth": 0.9},
"encoding": {
"x": {"field": "x", "type": "quantitative"},
"y": {"field": "y", "type": "quantitative"},
"color": {"field": "s", "type": "nominal", "legend": null,
"scale": {"domain": ["a","b","c","d","e","f","g","h","i","j"],
"range": ["#4455cc","#cc55cc","#880011","#ff5555","#2a8a8a","#8e33a8","#2a9060","#888888","#ff8c4a","#ee3333"]}}
}
},
{
"data": {"values": [
{"ph":"FLG","x":26.5,"y":5016},
{"ph":"Fe₃O₄","x":35.6,"y":5704},
{"ph":"Fe₃O₄","x":57.2,"y":5550},
{"ph":"Fe₃O₄","x":63.0,"y":5581},
{"ph":"Ti-α phase","x":38.6,"y":2803},
{"ph":"Ti-α phase","x":40.5,"y":2803},
{"ph":"Ti-α phase","x":53.2,"y":2803},
{"ph":"Ti-α phase","x":71.1,"y":2827},
{"ph":"Ti-α phase","x":38.5,"y":2220},
{"ph":"Ti-α phase","x":40.3,"y":2194},
{"ph":"Ti-α phase","x":53.2,"y":2220},
{"ph":"Ti-α phase","x":71.0,"y":2249},
{"ph":"Ti-α phase","x":38.7,"y":1800},
{"ph":"Ti-α phase","x":40.5,"y":1800},
{"ph":"Ti-α phase","x":53.3,"y":1678},
{"ph":"Ti-α phase","x":71.1,"y":1733},
{"ph":"Ti-α phase","x":38.7,"y":1131},
{"ph":"Ti-α phase","x":40.5,"y":1131},
{"ph":"Ti-α phase","x":53.3,"y":961},
{"ph":"Ti-α phase","x":71.1,"y":1034}
]},
"mark": {"type": "point", "shape": "square", "filled": true, "size": 45, "strokeWidth": 1, "opacity": 1},
"encoding": {
"x": {"field": "x", "type": "quantitative"},
"y": {"field": "y", "type": "quantitative"},
"fill": {"field": "ph", "type": "nominal",
"scale": {"domain": ["FLG","Fe₃O₄","Ti-α phase"], "range": ["#e8302a","#2b4a9e","#ffffff"]},
"legend": {"title": null, "orient": "none", "legendX": 71, "legendY": -25, "direction": "horizontal",
"symbolType": "square", "symbolSize": 45, "symbolStrokeWidth": 1, "labelFontSize": 17, "labelColor": "#000",
"labelFont": "Liberation Sans", "columnPadding": 34, "labelOffset": 5}},
"stroke": {"field": "ph", "type": "nominal",
"scale": {"domain": ["FLG","Fe₃O₄","Ti-α phase"], "range": ["#a82020","#4a62c0","#666666"]},
"legend": {"title": null, "orient": "none", "legendX": 71, "legendY": -25, "direction": "horizontal",
"symbolType": "square", "symbolSize": 45, "symbolStrokeWidth": 1, "labelFontSize": 17, "labelColor": "#000",
"labelFont": "Liberation Sans", "columnPadding": 34, "labelOffset": 5}}
}
},
{
"data": {"values": [
{"t":"Fe₃O₄","x":88.8,"y":5618},
{"t":"Fe₃O₄-2.1","x":88.8,"y":5071},
{"t":"Fe₃O₄-1.8","x":88.8,"y":4487},
{"t":"Fe₃O₄-1.5","x":88.8,"y":3922},
{"t":"Fe₃O₄-1.2","x":88.8,"y":3356},
{"t":"Fe₃O₄-1.0","x":88.8,"y":2809},
{"t":"Fe₃O₄-0.7","x":88.8,"y":2244},
{"t":"Fe₃O₄-0.5","x":88.8,"y":1605},
{"t":"Fe₃O₄-0.1","x":88.8,"y":967},
{"t":"FLG","x":88.8,"y":420}
]},
"mark": {"type": "text", "align": "right", "baseline": "middle", "fontSize": 16.5, "color": "#000", "font": "Liberation Sans"},
"encoding": {
"x": {"field": "x", "type": "quantitative"},
"y": {"field": "y", "type": "quantitative"},
"text": {"field": "t"}
}
},
{
"data": {"values": [
{"t":"(311)","x":37.3,"y":5720},
{"t":"(440)","x":63.9,"y":5667}
]},
"mark": {"type": "text", "align": "left", "baseline": "middle", "fontSize": 15, "color": "#4a5cc8", "font": "Liberation Sans"},
"encoding": {
"x": {"field": "x", "type": "quantitative"},
"y": {"field": "y", "type": "quantitative"},
"text": {"field": "t"}
}
},
{
"data": {"values": [
{"t":"(511)","x":56.1,"y":5655}
]},
"mark": {"type": "text", "align": "right", "baseline": "middle", "fontSize": 15, "color": "#4a5cc8", "font": "Liberation Sans"},
"encoding": {
"x": {"field": "x", "type": "quantitative"},
"y": {"field": "y", "type": "quantitative"},
"text": {"field": "t"}
}
},
{
"data": {"values": [
{"x":13.64,"x2":13.64,"y":5508,"y2":5909},
{"x":13.64,"x2":14.5,"y":5909,"y2":5909},
{"x":13.64,"x2":14.5,"y":5508,"y2":5508}
]},
"mark": {"type": "rule", "color": "#000", "strokeWidth": 2},
"encoding": {
"x": {"field": "x", "type": "quantitative"},
"x2": {"field": "x2"},
"y": {"field": "y", "type": "quantitative"},
"y2": {"field": "y2"}
}
},
{
"data": {"values": [{"t":"400","x":15.3,"y":5710}]},
"mark": {"type": "text", "align": "left", "baseline": "middle", "fontSize": 18, "fontWeight": "bold", "color": "#000", "font": "Liberation Sans"},
"encoding": {
"x": {"field": "x", "type": "quantitative"},
"y": {"field": "y", "type": "quantitative"},
"text": {"field": "t"}
}
}
]
}
